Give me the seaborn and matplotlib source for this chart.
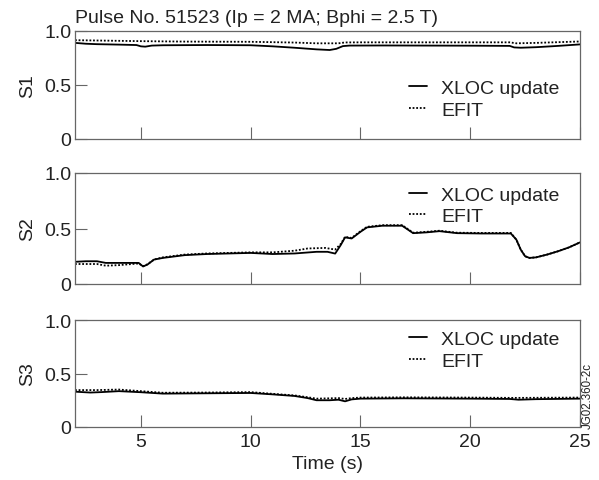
import numpy as np
import pandas as pd
import matplotlib
matplotlib.use("Agg")
import matplotlib.pyplot as plt
import seaborn as sns

title = "Pulse No. 51523 (Ip = 2 MA; Bphi = 2.5 T)"
panel_labels = ["S1", "S2", "S3"]
series_names = ["XLOC update", "EFIT"]
x_ticks = [5, 10, 15, 20, 25]
y_ticks = [0, 0.5, 1.0]
y_tick_labels = ["0", "0.5", "1.0"]

# S1
s1_xloc_t = [2, 2.5, 3, 4, 4.8, 5.0, 5.2, 5.5, 6, 8, 10, 11, 12, 13, 13.6, 13.9, 14.2, 14.5, 16, 18, 20, 21.8, 22.0, 22.3, 23, 24, 25]
s1_xloc_v = [0.89, 0.882, 0.878, 0.874, 0.87, 0.858, 0.855, 0.865, 0.868, 0.87, 0.868, 0.858, 0.845, 0.83, 0.824, 0.835, 0.86, 0.865, 0.866, 0.865, 0.864, 0.862, 0.848, 0.845, 0.85, 0.862, 0.876]
s1_efit_t = [2, 3, 5, 7, 10, 12, 13, 14, 14.3, 15, 18, 21.8, 22.1, 23, 25]
s1_efit_v = [0.915, 0.912, 0.906, 0.902, 0.9, 0.893, 0.886, 0.886, 0.894, 0.895, 0.895, 0.895, 0.886, 0.89, 0.903]

# S2
s2_xloc_t = [2, 2.5, 3.0, 3.4, 4, 4.9, 5.1, 5.3, 5.6, 6, 7, 8, 10, 11, 12, 13, 13.5, 13.85, 14.1, 14.3, 14.6, 15.0, 15.3, 16, 16.9, 17.4, 18, 18.6, 19.4, 20.5, 21.85, 22.1, 22.3, 22.5, 22.7, 23.0, 23.5, 24, 24.5, 25]
s2_xloc_v = [0.2, 0.205, 0.205, 0.19, 0.19, 0.19, 0.158, 0.175, 0.22, 0.235, 0.26, 0.27, 0.28, 0.27, 0.275, 0.29, 0.29, 0.274, 0.35, 0.42, 0.41, 0.47, 0.51, 0.525, 0.525, 0.458, 0.465, 0.476, 0.458, 0.455, 0.455, 0.40, 0.31, 0.25, 0.235, 0.24, 0.265, 0.295, 0.33, 0.375]
s2_efit_t = [2, 2.5, 3.0, 3.4, 4, 4.9, 5.1, 5.3, 5.6, 6, 7, 8, 10, 11, 12, 12.6, 13.4, 13.85, 14.1, 14.3, 14.6, 15.0, 15.3, 16, 16.9, 17.4, 18, 18.6, 19.4, 20.5, 21.85, 22.1, 22.3, 22.5, 22.7, 23.0, 23.5, 24, 24.5, 25]
s2_efit_v = [0.18, 0.18, 0.18, 0.165, 0.17, 0.185, 0.16, 0.178, 0.22, 0.24, 0.265, 0.275, 0.285, 0.285, 0.3, 0.32, 0.325, 0.31, 0.36, 0.425, 0.415, 0.475, 0.515, 0.53, 0.53, 0.462, 0.47, 0.48, 0.462, 0.46, 0.46, 0.40, 0.31, 0.25, 0.235, 0.24, 0.265, 0.295, 0.33, 0.375]

# S3
s3_xloc_t = [2, 2.7, 3.2, 4, 5, 6, 8, 10, 11, 12, 12.6, 13, 13.6, 14.0, 14.3, 14.6, 15, 17, 20, 21.8, 22.2, 23, 25]
s3_xloc_v = [0.33, 0.322, 0.326, 0.335, 0.325, 0.312, 0.315, 0.318, 0.305, 0.29, 0.27, 0.25, 0.25, 0.255, 0.24, 0.258, 0.265, 0.268, 0.265, 0.262, 0.255, 0.26, 0.265]
s3_efit_t = [2, 3, 4, 5, 6, 8, 10, 11, 12, 12.6, 13, 13.6, 14.0, 14.3, 14.6, 15, 17, 20, 22, 25]
s3_efit_v = [0.345, 0.345, 0.35, 0.335, 0.32, 0.322, 0.326, 0.31, 0.295, 0.278, 0.265, 0.268, 0.27, 0.262, 0.27, 0.275, 0.277, 0.275, 0.272, 0.275]

panels = [
    (s1_xloc_t, s1_xloc_v, s1_efit_t, s1_efit_v),
    (s2_xloc_t, s2_xloc_v, s2_efit_t, s2_efit_v),
    (s3_xloc_t, s3_xloc_v, s3_efit_t, s3_efit_v),
]
legend_centers = [0.37, 0.707, 0.72]

sns.set_style("ticks")
plt.rcParams['font.family'] = ['Liberation Sans', 'DejaVu Sans']
fs = 14
txt_color = "#222222"
spine_color = "#666666"

fig = plt.figure(figsize=(5.99, 4.81), dpi=100)
W, H = 599, 481
left, right = 75 / W, 580 / W
tops = [32, 174, 321]
bottoms = [140, 285, 428]

for i, (xt, xv, et, ev) in enumerate(panels):
    ax = fig.add_axes([left, 1 - bottoms[i] / H, right - left, (bottoms[i] - tops[i]) / H])
    df = pd.concat([
        pd.DataFrame({"t": xt, "v": xv, "series": series_names[0]}),
        pd.DataFrame({"t": et, "v": ev, "series": series_names[1]}),
    ])
    sns.lineplot(data=df, x="t", y="v", hue="series", style="series",
                 palette=["black", "black"], dashes=[(None, None), (1, 1)],
                 linewidth=1.3, ax=ax, sort=False, estimator=None)
    ax.set_xlim(2, 25)
    ax.set_ylim(0, 1.0)
    ax.set_xticks(x_ticks)
    ax.set_yticks(y_ticks)
    ax.set_yticklabels(y_tick_labels)
    ax.tick_params(direction="in", length=8.6, width=0.8, color=spine_color,
                   labelsize=fs, labelcolor=txt_color)
    ax.tick_params(axis="y", pad=2.5)
    ax.tick_params(axis="x", pad=4)
    if i < 2:
        ax.tick_params(axis="x", labelbottom=False)
        ax.set_xlabel("")
    else:
        ax.set_xlabel("Time (s)", fontsize=fs, color=txt_color, labelpad=4)
    ax.set_ylabel(panel_labels[i], fontsize=fs, color=txt_color, labelpad=6)
    for s in ax.spines.values():
        s.set_visible(True)
        s.set_color(spine_color)
        s.set_linewidth(0.9)
    leg = ax.legend(loc="center left", bbox_to_anchor=(0.661, legend_centers[i]),
                    frameon=False, fontsize=fs, handlelength=0.93,
                    handletextpad=0.72, labelspacing=0.2, borderpad=0,
                    borderaxespad=0)
    for line in leg.get_lines():
        line.set_linewidth(1.3)
    for txt in leg.get_texts():
        txt.set_color(txt_color)
    if i == 0:
        ax.set_title(title, loc="left", fontsize=fs, color=txt_color, pad=6.5)

fig.text(588 / W, 1 - 396.5 / H, "JG02.360-2c", rotation=90, fontsize=8.3,
         color=txt_color, ha="center", va="center")

fig.savefig("out.png", dpi=100)
